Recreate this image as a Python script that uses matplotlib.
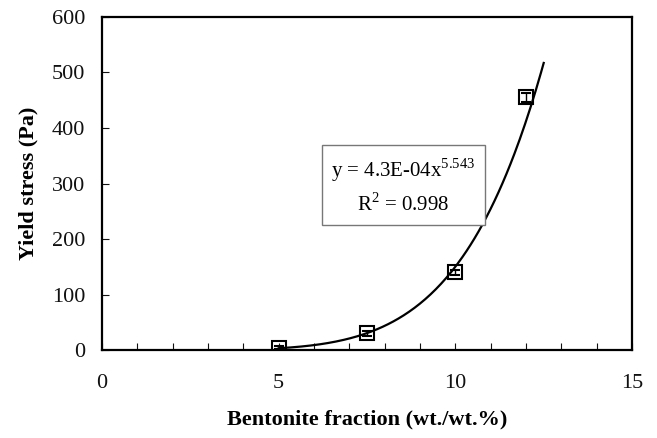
import matplotlib
matplotlib.use("Agg")
import matplotlib.pyplot as plt
from matplotlib.ticker import MultipleLocator
import numpy as np

plt.rcParams['font.family'] = ['Liberation Serif', 'DejaVu Serif']
plt.rcParams['mathtext.fontset'] = 'custom'
plt.rcParams['mathtext.rm'] = 'Liberation Serif'

# measured yield stress vs bentonite content
bentonite = [5.0, 7.5, 10.0, 12.0]
yield_stress = [4, 30, 140, 455]
stress_err = [3, 4, 5, 8]

# power-law fit y = a * x^b
fit_a = 4.3e-4
fit_b = 5.543
fit_r2 = 0.998
fit_range = (5.0, 12.5)

fig = plt.figure(figsize=(6.57, 4.38), dpi=100)
ax = fig.add_axes([0.1553, 0.2009, 0.8067, 0.7603])

xf = np.linspace(fit_range[0], fit_range[1], 200)
ax.plot(xf, fit_a * xf ** fit_b, color='black', lw=1.6, zorder=2)

ax.errorbar(bentonite, yield_stress, yerr=stress_err, fmt='s', ms=10,
            mfc='none', mec='black', mew=1.5, ecolor='black', elinewidth=1.0,
            capsize=3.5, capthick=1.0, zorder=3)

ax.set_xlim(0, 15)
ax.set_ylim(0, 600)
ax.xaxis.set_major_locator(MultipleLocator(5))
ax.xaxis.set_minor_locator(MultipleLocator(1))
ax.yaxis.set_major_locator(MultipleLocator(100))
ax.tick_params(which='both', direction='in', length=5, width=0.8,
               top=False, right=False, labelsize=16, colors='#111111')
ax.tick_params(axis='x', which='major', pad=17)
ax.tick_params(axis='y', which='major', pad=12)
for s in ax.spines.values():
    s.set_linewidth(1.6)

ax.set_xlabel('Bentonite fraction (wt./wt.%)', fontsize=16, fontweight='bold',
              labelpad=12)
ax.set_ylabel('Yield stress (Pa)', fontsize=16, fontweight='bold', labelpad=10)

label = ('y = %.1fE-04x$^{\\mathregular{%.3f}}$\nR$^{\\mathregular{2}}$ = %.3f'
         % (fit_a * 1e4, fit_b, fit_r2))
ax.text(0.568, 0.492, label, transform=ax.transAxes, fontsize=15,
        ha='center', va='center', linespacing=1.5, multialignment='center',
        bbox=dict(boxstyle='square,pad=0.45', fc='white', ec='#777777', lw=1.0))

fig.savefig('out.png', dpi=100)
